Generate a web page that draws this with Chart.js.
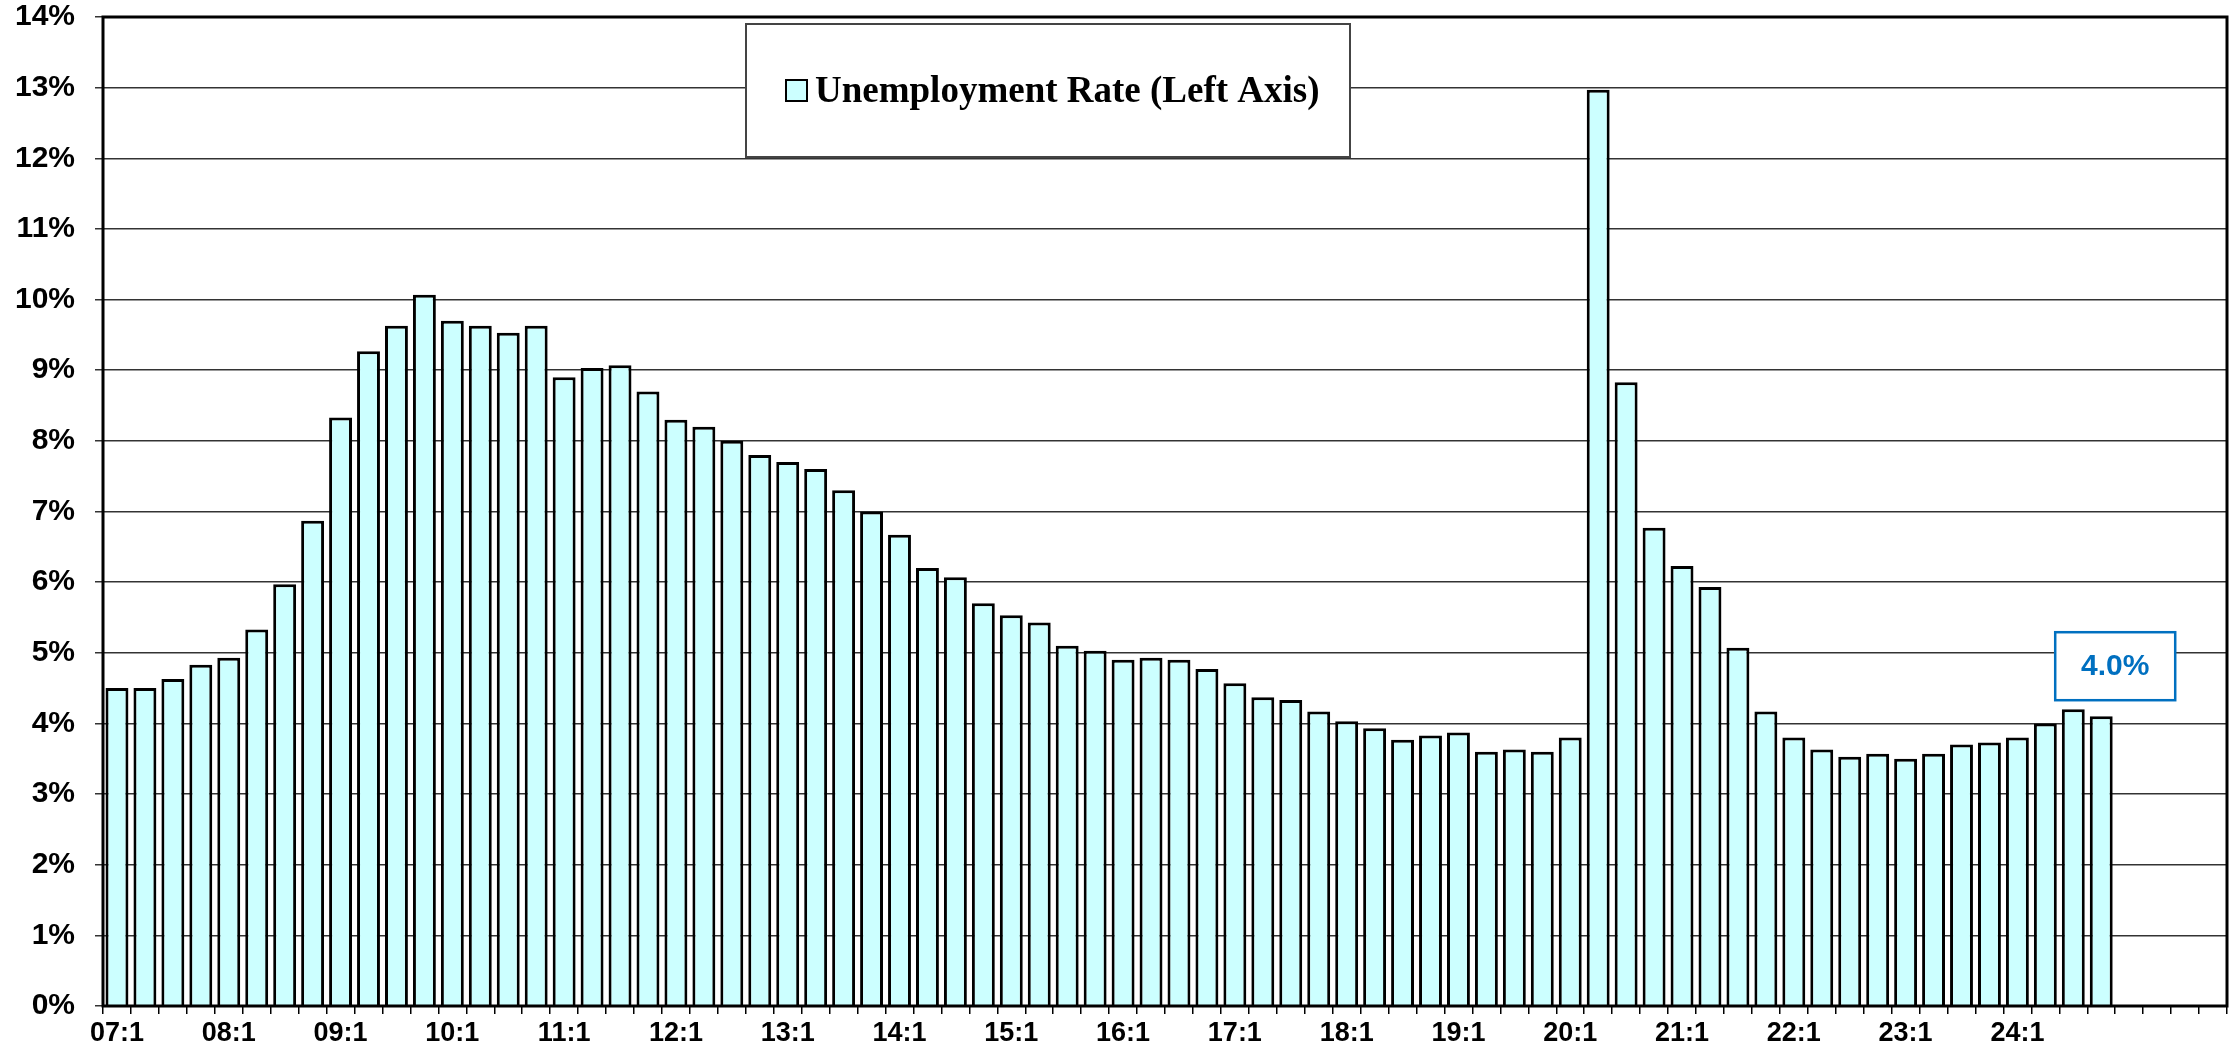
<!DOCTYPE html>
<html>
<head>
<meta charset="utf-8">
<script src="https://cdn.jsdelivr.net/npm/chart.js@4.4.1/dist/chart.umd.min.js"></script>
<style>
  body { margin: 0; background: #fff; }
  #wrap { width: 2234px; height: 1044px; position: relative; }
</style>
</head>
<body>
<div id="wrap"><canvas id="rate-chart"></canvas></div>
<script>
// Quarterly unemployment rate, 07:1 to 24:4, plus 4 empty slots on the right
const quarters = [
  '07:1','07:2','07:3','07:4', '08:1','08:2','08:3','08:4',
  '09:1','09:2','09:3','09:4', '10:1','10:2','10:3','10:4',
  '11:1','11:2','11:3','11:4', '12:1','12:2','12:3','12:4',
  '13:1','13:2','13:3','13:4', '14:1','14:2','14:3','14:4',
  '15:1','15:2','15:3','15:4', '16:1','16:2','16:3','16:4',
  '17:1','17:2','17:3','17:4', '18:1','18:2','18:3','18:4',
  '19:1','19:2','19:3','19:4', '20:1','20:2','20:3','20:4',
  '21:1','21:2','21:3','21:4', '22:1','22:2','22:3','22:4',
  '23:1','23:2','23:3','23:4', '24:1','24:2','24:3','24:4',
  '', '', '', ''
];

const unemploymentRate = [
  4.50, 4.50, 4.63, 4.83,  4.93, 5.33, 5.97, 6.87,
  8.33, 9.27, 9.63, 10.07, 9.70, 9.63, 9.53, 9.63,
  8.90, 9.03, 9.07, 8.70,  8.30, 8.20, 8.00, 7.80,
  7.70, 7.60, 7.30, 7.00,  6.67, 6.20, 6.07, 5.70,
  5.53, 5.43, 5.10, 5.03,  4.90, 4.93, 4.90, 4.77,
  4.57, 4.37, 4.33, 4.17,  4.03, 3.93, 3.77, 3.83,
  3.87, 3.60, 3.63, 3.60,  3.80, 12.97, 8.83, 6.77,
  6.23, 5.93, 5.07, 4.17,  3.80, 3.63, 3.53, 3.57,
  3.50, 3.57, 3.70, 3.73,  3.80, 4.00, 4.20, 4.10
];

const yTicks = [0, 1, 2, 3, 4, 5, 6, 7, 8, 9, 10, 11, 12, 13, 14];

const seriesName = 'Unemployment Rate (Left Axis)';
const calloutText = '4.0%';

const sansBold = 'bold {s}px "Liberation Sans", Arial, sans-serif';
const serifBold = 'bold {s}px "Liberation Serif", "Times New Roman", serif';

// frame, legend box and the latest value callout
const extras = {
  id: 'extras',
  afterDatasetsDraw(chart) {
    const ctx = chart.ctx;
    const a = chart.chartArea;
    ctx.save();
    ctx.strokeStyle = '#000';
    ctx.lineWidth = 3;
    ctx.strokeRect(a.left, a.top, a.right - a.left, a.bottom - a.top);
    ctx.restore();
  },
  afterDraw(chart) {
    const ctx = chart.ctx;
    const xs = chart.scales.x;
    const ys = chart.scales.y;
    ctx.save();

    // legend
    ctx.fillStyle = '#fff';
    ctx.fillRect(746, 24, 604, 133);
    ctx.strokeStyle = '#444';
    ctx.lineWidth = 2;
    ctx.strokeRect(746, 24, 604, 133);
    ctx.fillStyle = '#CCFFFF';
    ctx.fillRect(786, 80, 21, 21);
    ctx.strokeStyle = '#000';
    ctx.lineWidth = 2;
    ctx.strokeRect(786, 80, 21, 21);
    ctx.fillStyle = '#000';
    ctx.font = serifBold.replace('{s}', 37);
    ctx.textBaseline = 'middle';
    ctx.textAlign = 'left';
    ctx.fillText(chart.data.datasets[0].label, 815, 92);

    // callout over the last bars
    const cx = (xs.getPixelForValue(71) + xs.getPixelForValue(72)) / 2;
    const cy = ys.getPixelForValue(4.81);
    ctx.fillStyle = '#fff';
    ctx.fillRect(cx - 60, cy - 34, 120, 68);
    ctx.strokeStyle = '#0070C0';
    ctx.lineWidth = 2.5;
    ctx.strokeRect(cx - 60, cy - 34, 120, 68);
    ctx.fillStyle = '#0070C0';
    ctx.font = sansBold.replace('{s}', 30);
    ctx.textAlign = 'center';
    ctx.fillText(calloutText, cx, cy + 1);

    ctx.restore();
  }
};

var ctx = document.getElementById('rate-chart').getContext('2d');
var rateChart = new Chart(ctx, {
  type: 'bar',
  data: {
    labels: quarters,
    datasets: [{
      label: seriesName,
      data: unemploymentRate,
      backgroundColor: '#CCFFFF',
      borderColor: '#000',
      borderWidth: 3,
      barPercentage: 0.82,
      categoryPercentage: 1.0
    }]
  },
  options: {
    responsive: true,
    maintainAspectRatio: false,
    animation: false,
    devicePixelRatio: 1,
    layout: { padding: { top: 17, right: 7, left: 0, bottom: 0 } },
    plugins: {
      legend: { display: false },
      tooltip: { enabled: false }
    },
    scales: {
      x: {
        offset: true,
        border: { display: false },
        grid: {
          offset: true,
          drawOnChartArea: false,
          drawTicks: true,
          tickLength: 8,
          color: '#000',
          lineWidth: 1.5
        },
        ticks: {
          autoSkip: false,
          maxRotation: 0,
          padding: 6,
          color: '#000',
          font: { family: '"Liberation Sans Narrow", "Arial Narrow", "Liberation Sans", sans-serif', size: 27, weight: 'bold', lineHeight: 1 },
          callback: function(value) {
            const lab = this.getLabelForValue(value);
            return lab.endsWith(':1') ? lab : '';
          }
        },
        afterFit: function(scale) { scale.height = 38; }
      },
      y: {
        min: yTicks[0],
        max: yTicks[yTicks.length - 1],
        border: { display: false },
        afterBuildTicks: function(scale) {
          scale.ticks = yTicks.map(v => ({ value: v }));
        },
        grid: {
          color: 'rgba(0,0,0,0.8)',
          lineWidth: 1.5,
          drawTicks: true,
          tickLength: 8
        },
        ticks: {
          padding: 20,
          color: '#000',
          font: { family: '"Liberation Sans", Arial, sans-serif', size: 30, weight: 'bold', lineHeight: 1 },
          callback: function(value) { return value + '%'; }
        },
        afterFit: function(scale) {
          scale.width = 103;
          scale.paddingTop = 0;
          scale.paddingBottom = 0;
        }
      }
    }
  },
  plugins: [extras]
});
</script>
</body>
</html>
